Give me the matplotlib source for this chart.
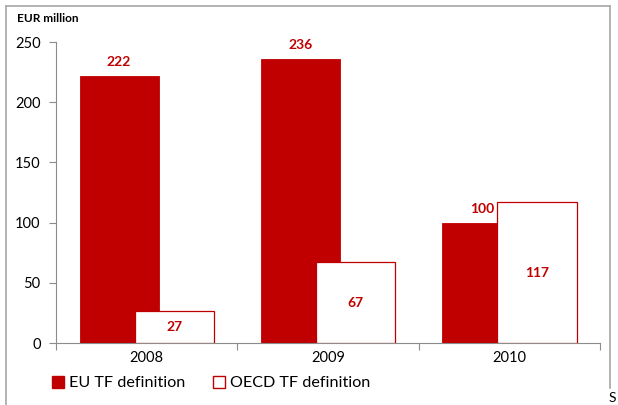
import matplotlib
matplotlib.use("Agg")
import matplotlib.pyplot as plt
from matplotlib.patches import Patch
from matplotlib.lines import Line2D
import numpy as np

plt.rcParams["font.family"] = ["Lato", "DejaVu Sans"]

# Funding per definition, EUR million
years = ["2008", "2009", "2010"]
eu_tf = [222, 236, 100]
oecd_tf = [27, 67, 117]

RED = "#C00000"
GREY = "#8C8C8C"
W, H = 618, 405

fig = plt.figure(figsize=(W / 100, H / 100), dpi=100)
ax = fig.add_axes([0.0906, 0.153, 0.971 - 0.0906, 0.896 - 0.153])

x = np.arange(len(years))
width = 0.436
shift = 0.152

eu_bars = ax.bar(x - shift, eu_tf, width, color=RED, edgecolor=RED,
                 linewidth=0.6, zorder=2)
oecd_bars = ax.bar(x + shift, oecd_tf, width, color="white", edgecolor=RED,
                   linewidth=0.9, zorder=3)

# EU values sit above the bar, OECD values in the middle of the bar
for bar, v in zip(eu_bars, eu_tf):
    ax.annotate(str(v), (bar.get_x() + bar.get_width() / 2, v),
                xytext=(0, 14), textcoords="offset pixels",
                ha="center", va="center", color=RED,
                fontsize=10, fontweight="bold", zorder=5)
for bar, v in zip(oecd_bars, oecd_tf):
    ax.text(bar.get_x() + bar.get_width() / 2, v / 2, str(v),
            ha="center", va="center", color=RED,
            fontsize=10, fontweight="bold", zorder=5)

ax.set_xlim(-0.5, 2.5)
ax.set_ylim(0, 250)
ax.set_yticks(range(0, 251, 50))
ax.set_xticks(x)
ax.set_xticklabels(years)
ax.set_xticks([-0.5, 0.5, 1.5, 2.5], minor=True)

for side in ("top", "right"):
    ax.spines[side].set_visible(False)
for side in ("left", "bottom"):
    ax.spines[side].set_color(GREY)
    ax.spines[side].set_linewidth(0.8)

ax.tick_params(axis="y", colors=GREY, labelcolor="black", labelsize=10.5,
               length=5, width=0.8, pad=6)
ax.tick_params(axis="x", which="major", length=0, labelsize=10.5,
               labelcolor="black", pad=6)
ax.tick_params(axis="x", which="minor", length=5, width=0.8, colors=GREY)

fig.text(0.028, 0.955, "EUR million", fontsize=8.5, fontweight="bold",
         ha="left", va="center")

handles = [Patch(facecolor=RED, edgecolor=RED),
           Patch(facecolor="white", edgecolor=RED)]
fig.legend(handles, ["EU TF definition", "OECD TF definition"],
           loc="center left", bbox_to_anchor=(44 / W, 1 - 383 / H), ncol=2,
           frameon=False, fontsize=11.6, handlelength=0.75, handleheight=0.75,
           handletextpad=0.3, columnspacing=1.75, borderpad=0)

# outer chart frame (open at the bottom)
frame = dict(color="#A6A6A6", linewidth=1.2, transform=fig.transFigure)
fig.add_artist(Line2D([6 / W, 610 / W], [1 - 6 / H, 1 - 6 / H], **frame))
fig.add_artist(Line2D([6 / W, 6 / W], [1 - 6 / H, 0], **frame))
fig.add_artist(Line2D([610 / W, 610 / W], [1 - 6 / H, 1 - 388 / H], **frame))
fig.text(609 / W, 1 - 398 / H, "S", fontsize=10, ha="left", va="center")

fig.savefig("out.png", dpi=100)
